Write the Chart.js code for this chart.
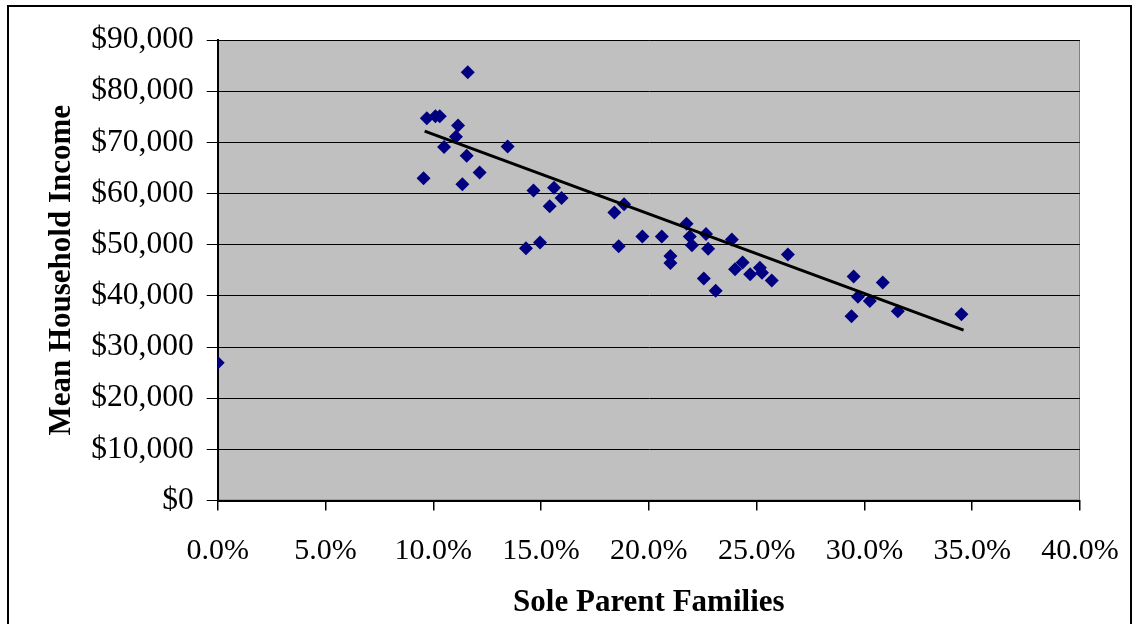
<!DOCTYPE html>
<html>
<head>
<meta charset="utf-8">
<script src="https://cdn.jsdelivr.net/npm/chart.js@4.4.1/dist/chart.umd.min.js"></script>
<style>
    html, body { margin: 0; padding: 0; background: #fff; }
    #wrap { position: relative; width: 1134px; height: 624px; overflow: hidden; }
    #frame { position: absolute; left: 7px; top: 5px; width: 1121px; height: 700px; border: 2px solid #000; }
    #chartBox { position: absolute; left: 0; top: 0; width: 1134px; height: 624px; }
</style>
</head>
<body>
<div id="wrap">
    <div id="frame"></div>
    <div id="chartBox"><canvas id="scatterChart"></canvas></div>
</div>
<script>
// Sole parent families (%) vs mean household income ($)
const soleParentPct = [
    0.0, 11.6, 9.7, 10.1, 10.3, 11.15, 11.05, 10.5, 13.45, 11.55,
    12.15, 9.55, 11.35, 14.65, 15.6, 15.95, 15.4, 14.95, 14.3, 18.85,
    18.4, 18.6, 19.7, 20.6, 21.75, 21.9, 22.0, 21.0, 21.0, 22.65,
    22.75, 23.85, 22.55, 23.1, 24.35, 24.0, 24.7, 25.15, 25.25, 25.7,
    26.45, 29.5, 30.85, 29.7, 30.25, 29.4, 31.55, 34.5
];
const meanIncome = [
    26900, 83700, 74700, 75100, 75100, 73300, 71100, 69100, 69200, 67400,
    64100, 63000, 61800, 60600, 61100, 59100, 57500, 50400, 49300, 57900,
    56300, 49700, 51600, 51600, 54100, 51600, 49900, 47800, 46400, 52100,
    49200, 51000, 43400, 41000, 46500, 45200, 44200, 45500, 44500, 43000,
    48100, 43800, 42600, 39800, 39000, 36000, 37000, 36400
];
// linear trend line end points
const trendPct = [9.6, 34.6];
const trendIncome = [72200, 33300];

const xTitle = 'Sole Parent Families';
const yTitle = 'Mean Household Income';

const plotBackground = {
    id: 'plotBackground',
    beforeDraw(chart) {
        const { ctx, chartArea: a } = chart;
        ctx.save();
        ctx.fillStyle = '#c0c0c0';
        ctx.fillRect(a.left, a.top, a.right - a.left, a.bottom - a.top);
        ctx.strokeStyle = '#808080';
        ctx.lineWidth = 1;
        ctx.strokeRect(a.left + 0.5, a.top + 0.5, a.right - a.left - 1, a.bottom - a.top - 1);
        ctx.restore();
    }
};

const xTickFont = { family: '"Liberation Serif", serif', size: 30 };
const yTickFont = { family: '"Liberation Serif", serif', size: 31.5 };
const titleFont = { family: '"Liberation Serif", serif', size: 31, weight: 'bold' };

new Chart(document.getElementById('scatterChart'), {
    type: 'scatter',
    data: {
        datasets: [
            {
                label: 'Mean Household Income',
                data: soleParentPct.map((x, i) => ({ x: x, y: meanIncome[i] })),
                pointStyle: 'rectRot',
                pointRadius: 7,
                pointHoverRadius: 7,
                backgroundColor: '#000080',
                borderColor: '#000080',
                borderWidth: 0,
                order: 1
            },
            {
                type: 'line',
                label: 'Trend',
                data: trendPct.map((x, i) => ({ x: x, y: trendIncome[i] })),
                borderColor: '#000',
                borderWidth: 3,
                pointRadius: 0,
                fill: false,
                order: 0
            }
        ]
    },
    options: {
        responsive: true,
        maintainAspectRatio: false,
        animation: false,
        layout: { padding: { left: 0, top: 40, right: 54, bottom: 0 } },
        plugins: {
            legend: { display: false },
            tooltip: { enabled: false }
        },
        scales: {
            x: {
                type: 'linear',
                min: 0,
                max: 40,
                afterFit(scale) {
                    scale.height = 123.5;
                    scale.paddingLeft = 0;
                    scale.paddingRight = 0;
                },
                ticks: {
                    stepSize: 5,
                    color: '#000',
                    font: xTickFont,
                    padding: 23,
                    maxRotation: 0,
                    callback: v => v.toFixed(1) + '%'
                },
                grid: { drawOnChartArea: false, drawTicks: true, tickLength: 10, color: '#000', lineWidth: 1.5 },
                border: { color: '#000', width: 2 },
                title: { display: true, text: xTitle, color: '#000', font: titleFont, padding: { top: 0, bottom: 2 } }
            },
            y: {
                min: 0,
                max: 90000,
                afterFit(scale) { scale.width = 217.7; },
                ticks: {
                    stepSize: 10000,
                    color: '#000',
                    font: yTickFont,
                    padding: 13,
                    callback: v => '$' + v.toLocaleString('en-US')
                },
                grid: { color: '#000', lineWidth: 1, tickLength: 11 },
                border: { color: '#000', width: 2 },
                title: { display: true, text: yTitle, color: '#000', font: titleFont, padding: { top: 43, bottom: 0 } }
            }
        }
    },
    plugins: [plotBackground]
});
</script>
</body>
</html>
